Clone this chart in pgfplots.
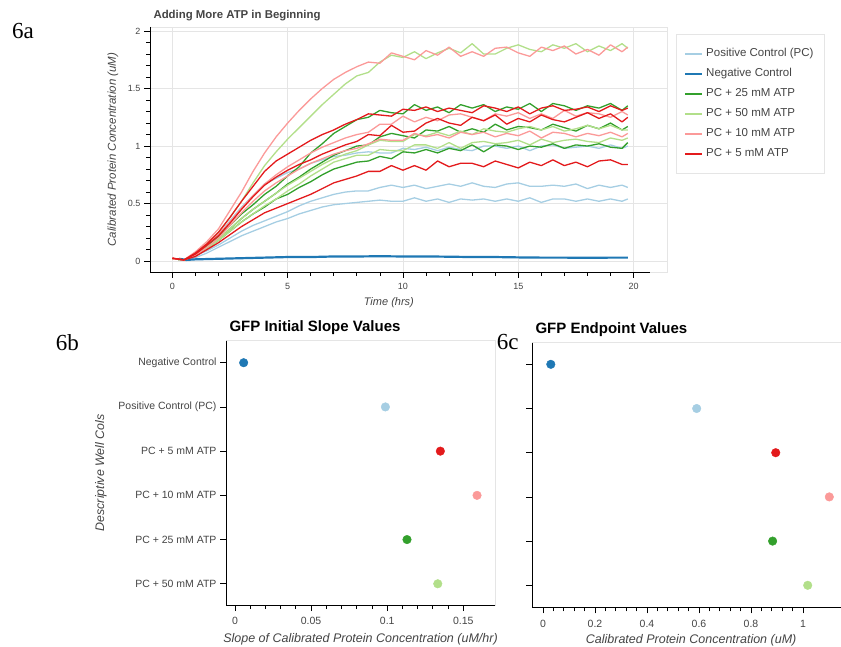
\documentclass[border=0pt]{standalone}
\usepackage{pgfplots}
\pgfplotsset{compat=1.18}
\usepackage{fontspec}
\setmainfont{Liberation Sans}
\newfontfamily\panelfont{Liberation Serif}

\definecolor{lblue}{HTML}{A6CEE3}
\definecolor{dblue}{HTML}{1F78B4}
\definecolor{dgreen}{HTML}{33A02C}
\definecolor{lgreen}{HTML}{B2DF8A}
\definecolor{pink}{HTML}{FB9A99}
\definecolor{dred}{HTML}{E31A1C}
\definecolor{txt}{HTML}{444444}
\definecolor{frame}{HTML}{E5E5E5}

% bokeh-like look: light frame, dark left/bottom axis, outside ticks
\pgfplotsset{
  bk/.style={
    scale only axis, tick align=outside,
    axis line style={frame, line width=0.8pt},
    xtick pos=left, ytick pos=left,
    major tick length=6pt, minor tick length=4pt,
    every tick/.style={black, line width=0.8pt},
    tick label style={text=txt},
    /pgf/number format/assume math mode=true,
    label style={text=txt},
    title style={anchor=base west, at={(axis description cs:0,1)}},
  },
  darkaxes/.style={
    after end axis/.code={\draw[black, line width=0.9pt]
      (axis description cs:0,1) -- (axis description cs:0,0) -- (axis description cs:#1,0);}
  },
}

\begin{document}
\begin{tikzpicture}[x=1pt,y=1pt]
\useasboundingbox (0,0) rectangle (841,646);

% ---------------- 6a ----------------
\begin{axis}[bk, darkaxes=0.967,
  at={(150pt,374pt)}, anchor=south west, width=517pt, height=245pt,
  xmin=-0.97, xmax=21.45, ymin=-0.095, ymax=2.035,
  xtick={0,5,10,15,20}, minor x tick num=4,
  ytick={0,0.5,1,1.5,2}, minor y tick num=4,
  grid=major, major grid style={frame, line width=0.8pt},
  tick label style={font=\fontsize{9}{10}\selectfont},
  xticklabel style={yshift=-2pt},
  title={Adding More ATP in Beginning},
  title style={font=\bfseries\fontsize{11.4}{13}\selectfont, text=txt, yshift=2.3pt},
  xlabel={Time (hrs)},
  xlabel style={at={(axis description cs:0.462,-0.127)}, anchor=center, font=\itshape\fontsize{11}{12}\selectfont},
  ylabel={Calibrated Protein Concentration (uM)},
  ylabel style={at={(axis description cs:-0.0716,0.5)}, anchor=center, font=\itshape\fontsize{11.5}{12}\selectfont},
  every axis plot/.append style={line width=1.3pt, no markers, line join=round},
  legend style={at={(1.0174,0.9714)}, anchor=north west, draw=frame, fill=white,
    font=\fontsize{11.5}{13}\selectfont, text=txt, inner xsep=8pt, inner ysep=13pt,
    row sep=7pt, nodes={inner ysep=1pt, inner xsep=3pt, text height=8.5pt, text depth=2.5pt}},
  legend cell align=left,
  legend image code/.code={\draw[#1, line width=2pt] (0pt,0pt) -- (17pt,0pt);},
]
% Positive Control (PC)
\addplot[lblue] coordinates {(0,0.02)(0.5,0.01)(1,0.06)(1.5,0.15)(2,0.23)(2.5,0.35)(3,0.47)(3.5,0.57)(4,0.67)(4.5,0.72)(5,0.77)(5.5,0.80)(6,0.85)(6.5,0.88)(7,0.91)(7.5,0.92)(8,0.94)(8.5,0.95)(9,0.94)(9.5,0.94)(10,0.98)(10.5,0.97)(11,0.99)(11.5,0.96)(12,0.99)(12.5,0.97)(13,0.96)(13.5,1.00)(14,1.00)(14.5,0.98)(15,1.00)(15.5,0.96)(16,1.00)(16.5,1.01)(17,0.98)(17.5,0.99)(18,1.00)(18.5,0.98)(19,1.01)(19.5,0.98)(19.75,1.00)};
\addlegendentry{Positive Control (PC)}
\addplot[lblue, forget plot] coordinates {(0,0.02)(0.5,0.01)(1,0.05)(1.5,0.09)(2,0.14)(2.5,0.20)(3,0.26)(3.5,0.31)(4,0.35)(4.5,0.39)(5,0.43)(5.5,0.48)(6,0.52)(6.5,0.55)(7,0.58)(7.5,0.60)(8,0.61)(8.5,0.61)(9,0.64)(9.5,0.66)(10,0.64)(10.5,0.66)(11,0.63)(11.5,0.65)(12,0.67)(12.5,0.65)(13,0.68)(13.5,0.65)(14,0.64)(14.5,0.67)(15,0.68)(15.5,0.65)(16,0.65)(16.5,0.66)(17,0.65)(17.5,0.67)(18,0.63)(18.5,0.66)(19,0.64)(19.5,0.66)(19.75,0.64)};
\addplot[lblue, forget plot] coordinates {(0,0.02)(0.5,0.01)(1,0.03)(1.5,0.07)(2,0.12)(2.5,0.17)(3,0.22)(3.5,0.26)(4,0.30)(4.5,0.34)(5,0.37)(5.5,0.41)(6,0.44)(6.5,0.47)(7,0.49)(7.5,0.50)(8,0.51)(8.5,0.52)(9,0.53)(9.5,0.52)(10,0.52)(10.5,0.55)(11,0.52)(11.5,0.54)(12,0.51)(12.5,0.54)(13,0.53)(13.5,0.54)(14,0.52)(14.5,0.54)(15,0.52)(15.5,0.55)(16,0.51)(16.5,0.54)(17,0.54)(17.5,0.52)(18,0.54)(18.5,0.52)(19,0.54)(19.5,0.52)(19.75,0.54)};
% Negative Control
\addplot[dblue, line width=2.2pt] coordinates {(0.3,0.02)(0.6,0.01)(1,0.015)(2,0.02)(3,0.025)(4,0.03)(5,0.035)(6,0.035)(7,0.04)(8,0.04)(9,0.042)(10,0.04)(11,0.04)(12,0.038)(13,0.035)(14,0.035)(15,0.032)(16,0.03)(17,0.03)(18,0.028)(19,0.03)(19.75,0.03)};
\addlegendentry{Negative Control}
% PC + 25 mM ATP
\addplot[dgreen] coordinates {(0,0.02)(0.5,0.01)(1,0.06)(1.5,0.13)(2,0.21)(2.5,0.31)(3,0.41)(3.5,0.49)(4,0.58)(4.5,0.65)(5,0.74)(5.5,0.82)(6,0.94)(6.5,1.02)(7,1.11)(7.5,1.17)(8,1.23)(8.5,1.25)(9,1.31)(9.5,1.29)(10,1.28)(10.5,1.36)(11,1.31)(11.5,1.34)(12,1.29)(12.5,1.36)(13,1.33)(13.5,1.36)(14,1.30)(14.5,1.34)(15,1.32)(15.5,1.37)(16,1.30)(16.5,1.37)(17,1.35)(17.5,1.31)(18,1.35)(18.5,1.33)(19,1.37)(19.5,1.31)(19.75,1.35)};
\addlegendentry{PC + 25 mM ATP}
\addplot[dgreen, forget plot] coordinates {(0,0.02)(0.5,0.01)(1,0.05)(1.5,0.11)(2,0.18)(2.5,0.26)(3,0.34)(3.5,0.41)(4,0.47)(4.5,0.54)(5,0.58)(5.5,0.64)(6,0.69)(6.5,0.75)(7,0.80)(7.5,0.83)(8,0.86)(8.5,0.87)(9,0.91)(9.5,0.89)(10,0.95)(10.5,0.94)(11,0.97)(11.5,0.94)(12,0.98)(12.5,0.96)(13,1.01)(13.5,0.95)(14,1.01)(14.5,1.00)(15,0.97)(15.5,1.00)(16,0.99)(16.5,1.02)(17,0.98)(17.5,1.01)(18,1.00)(18.5,1.02)(19,0.99)(19.5,0.98)(19.75,1.03)};
\addplot[dgreen, forget plot] coordinates {(0,0.02)(0.5,0.01)(1,0.05)(1.5,0.11)(2,0.19)(2.5,0.28)(3,0.37)(3.5,0.45)(4,0.52)(4.5,0.59)(5,0.67)(5.5,0.73)(6,0.80)(6.5,0.86)(7,0.92)(7.5,0.96)(8,1.00)(8.5,1.01)(9,1.08)(9.5,1.11)(10,1.09)(10.5,1.07)(11,1.14)(11.5,1.13)(12,1.17)(12.5,1.12)(13,1.15)(13.5,1.12)(14,1.19)(14.5,1.14)(15,1.17)(15.5,1.16)(16,1.14)(16.5,1.19)(17,1.16)(17.5,1.13)(18,1.18)(18.5,1.15)(19,1.20)(19.5,1.14)(19.75,1.17)};
% PC + 50 mM ATP
\addplot[lgreen] coordinates {(0,0.02)(0.5,0.01)(1,0.07)(1.5,0.15)(2,0.25)(2.5,0.38)(3,0.52)(3.5,0.68)(4,0.83)(4.5,0.95)(5,1.06)(5.5,1.16)(6,1.26)(6.5,1.36)(7,1.45)(7.5,1.54)(8,1.61)(8.5,1.64)(9,1.73)(9.5,1.79)(10,1.77)(10.5,1.82)(11,1.76)(11.5,1.81)(12,1.85)(12.5,1.81)(13,1.89)(13.5,1.80)(14,1.80)(14.5,1.85)(15,1.88)(15.5,1.84)(16,1.82)(16.5,1.88)(17,1.85)(17.5,1.89)(18,1.82)(18.5,1.87)(19,1.83)(19.5,1.89)(19.75,1.85)};
\addlegendentry{PC + 50 mM ATP}
\addplot[lgreen, forget plot] coordinates {(0,0.02)(0.5,0.01)(1,0.05)(1.5,0.11)(2,0.19)(2.5,0.28)(3,0.37)(3.5,0.45)(4,0.52)(4.5,0.59)(5,0.66)(5.5,0.72)(6,0.78)(6.5,0.84)(7,0.89)(7.5,0.93)(8,0.96)(8.5,1.01)(9,1.05)(9.5,1.04)(10,1.04)(10.5,1.10)(11,1.09)(11.5,1.12)(12,1.09)(12.5,1.13)(13,1.10)(13.5,1.15)(14,1.13)(14.5,1.12)(15,1.15)(15.5,1.17)(16,1.14)(16.5,1.17)(17,1.13)(17.5,1.15)(18,1.18)(18.5,1.15)(19,1.18)(19.5,1.14)(19.75,1.14)};
\addplot[lgreen, forget plot] coordinates {(0,0.02)(0.5,0.01)(1,0.05)(1.5,0.11)(2,0.18)(2.5,0.26)(3,0.34)(3.5,0.41)(4,0.48)(4.5,0.54)(5,0.61)(5.5,0.67)(6,0.74)(6.5,0.80)(7,0.86)(7.5,0.89)(8,0.92)(8.5,0.92)(9,0.97)(9.5,0.96)(10,0.96)(10.5,1.01)(11,1.01)(11.5,0.98)(12,1.03)(12.5,0.98)(13,1.03)(13.5,1.04)(14,1.02)(14.5,1.03)(15,1.05)(15.5,1.01)(16,1.06)(16.5,1.03)(17,1.05)(17.5,1.06)(18,1.04)(18.5,1.03)(19,1.07)(19.5,1.05)(19.75,1.07)};
% PC + 10 mM ATP
\addplot[pink] coordinates {(0,0.02)(0.5,0.01)(1,0.08)(1.5,0.17)(2,0.28)(2.5,0.44)(3,0.60)(3.5,0.78)(4,0.94)(4.5,1.08)(5,1.20)(5.5,1.31)(6,1.41)(6.5,1.50)(7,1.58)(7.5,1.64)(8,1.69)(8.5,1.73)(9,1.72)(9.5,1.81)(10,1.78)(10.5,1.75)(11,1.83)(11.5,1.79)(12,1.86)(12.5,1.78)(13,1.82)(13.5,1.78)(14,1.85)(14.5,1.86)(15,1.81)(15.5,1.78)(16,1.86)(16.5,1.83)(17,1.87)(17.5,1.80)(18,1.84)(18.5,1.79)(19,1.88)(19.5,1.82)(19.75,1.86)};
\addlegendentry{PC + 10 mM ATP}
\addplot[pink, forget plot] coordinates {(0,0.02)(0.5,0.01)(1,0.06)(1.5,0.14)(2,0.23)(2.5,0.34)(3,0.46)(3.5,0.57)(4,0.67)(4.5,0.75)(5,0.82)(5.5,0.88)(6,0.94)(6.5,0.99)(7,1.03)(7.5,1.07)(8,1.10)(8.5,1.12)(9,1.19)(9.5,1.19)(10,1.26)(10.5,1.21)(11,1.25)(11.5,1.22)(12,1.27)(12.5,1.28)(13,1.25)(13.5,1.22)(14,1.28)(14.5,1.26)(15,1.29)(15.5,1.24)(16,1.28)(16.5,1.24)(17,1.31)(17.5,1.26)(18,1.29)(18.5,1.28)(19,1.25)(19.5,1.30)(19.75,1.27)};
\addplot[pink, forget plot] coordinates {(0,0.02)(0.5,0.01)(1,0.05)(1.5,0.12)(2,0.20)(2.5,0.31)(3,0.42)(3.5,0.52)(4,0.61)(4.5,0.68)(5,0.74)(5.5,0.80)(6,0.85)(6.5,0.89)(7,0.93)(7.5,0.96)(8,0.98)(8.5,1.02)(9,1.06)(9.5,1.05)(10,1.05)(10.5,1.11)(11,1.08)(11.5,1.10)(12,1.07)(12.5,1.12)(13,1.10)(13.5,1.12)(14,1.08)(14.5,1.11)(15,1.09)(15.5,1.13)(16,1.07)(16.5,1.12)(17,1.11)(17.5,1.08)(18,1.11)(18.5,1.09)(19,1.12)(19.5,1.08)(19.75,1.11)};
% PC + 5 mM ATP
\addplot[dred] coordinates {(0,0.025)(0.5,0.01)(1,0.07)(1.5,0.15)(2,0.25)(2.5,0.38)(3,0.52)(3.5,0.65)(4,0.78)(4.5,0.87)(5,0.93)(5.5,0.99)(6,1.05)(6.5,1.10)(7,1.14)(7.5,1.19)(8,1.23)(8.5,1.28)(9,1.27)(9.5,1.26)(10,1.32)(10.5,1.31)(11,1.34)(11.5,1.30)(12,1.33)(12.5,1.31)(13,1.29)(13.5,1.35)(14,1.33)(14.5,1.30)(15,1.34)(15.5,1.28)(16,1.33)(16.5,1.35)(17,1.31)(17.5,1.32)(18,1.34)(18.5,1.30)(19,1.35)(19.5,1.31)(19.75,1.33)};
\addlegendentry{PC + 5 mM ATP}
\addplot[dred, forget plot] coordinates {(0,0.025)(0.5,0.01)(1,0.06)(1.5,0.14)(2,0.22)(2.5,0.33)(3,0.45)(3.5,0.56)(4,0.66)(4.5,0.73)(5,0.79)(5.5,0.84)(6,0.88)(6.5,0.93)(7,0.97)(7.5,1.01)(8,1.04)(8.5,1.10)(9,1.09)(9.5,1.18)(10,1.12)(10.5,1.13)(11,1.20)(11.5,1.24)(12,1.20)(12.5,1.18)(13,1.25)(13.5,1.22)(14,1.27)(14.5,1.19)(15,1.24)(15.5,1.21)(16,1.27)(16.5,1.23)(17,1.21)(17.5,1.25)(18,1.29)(18.5,1.24)(19,1.28)(19.5,1.21)(19.75,1.25)};
\addplot[dred, forget plot] coordinates {(0,0.025)(0.5,0.01)(1,0.04)(1.5,0.10)(2,0.16)(2.5,0.23)(3,0.30)(3.5,0.36)(4,0.42)(4.5,0.46)(5,0.50)(5.5,0.54)(6,0.58)(6.5,0.63)(7,0.68)(7.5,0.71)(8,0.74)(8.5,0.78)(9,0.78)(9.5,0.83)(10,0.79)(10.5,0.83)(11,0.79)(11.5,0.87)(12,0.82)(12.5,0.85)(13,0.85)(13.5,0.82)(14,0.87)(14.5,0.84)(15,0.81)(15.5,0.86)(16,0.83)(16.5,0.88)(17,0.83)(17.5,0.86)(18,0.82)(18.5,0.87)(19,0.88)(19.5,0.84)(19.75,0.84)};
\end{axis}

% ---------------- 6b ----------------
\begin{axis}[bk, darkaxes=1,
  at={(226pt,41pt)}, anchor=south west, width=269pt, height=264.3pt,
  xmin=-0.0059, xmax=0.1708, ymin=-0.498, ymax=5.48, y dir=reverse,
  xtick={0,0.05,0.1,0.15}, xticklabels={0,0.05,0.1,0.15}, scaled x ticks=false,
  minor x tick num=4,
  ytick={0,1,2,3,4,5},
  yticklabels={Negative Control,Positive Control (PC),PC + 5 mM ATP,PC + 10 mM ATP,PC + 25 mM ATP,PC + 50 mM ATP},
  tick label style={font=\fontsize{10.5}{12}\selectfont},
  xticklabel style={yshift=-3pt},
  title={GFP Initial Slope Values},
  title style={font=\bfseries\fontsize{15}{17}\selectfont, text=black, yshift=3.7pt},
  xlabel={Slope of Calibrated Protein Concentration (uM/hr)},
  xlabel style={at={(axis description cs:0.5,-0.129)}, anchor=center, font=\itshape\fontsize{12.5}{14}\selectfont},
  ylabel={Descriptive Well Cols},
  ylabel style={at={(axis description cs:-0.465,0.5)}, anchor=center, font=\itshape\fontsize{12.4}{14}\selectfont},
  every axis plot/.append style={only marks, mark=*, mark size=4.3pt},
]
\addplot[dblue] coordinates {(0.0057,0)};
\addplot[lblue] coordinates {(0.0988,1)};
\addplot[dred] coordinates {(0.1349,2)};
\addplot[pink] coordinates {(0.1590,3)};
\addplot[dgreen] coordinates {(0.1130,4)};
\addplot[lgreen] coordinates {(0.1332,5)};
\end{axis}

% ---------------- 6c ----------------
\begin{axis}[bk, darkaxes=1,
  at={(532pt,38.7pt)}, anchor=south west, width=309pt, height=264.6pt,
  xmin=-0.0423, xmax=1.146, ymin=-0.489, ymax=5.498, y dir=reverse,
  xtick={0,0.2,0.4,0.6,0.8,1}, xticklabels={0,0.2,0.4,0.6,0.8,1}, scaled x ticks=false,
  minor x tick num=4,
  ytick={0,1,2,3,4,5}, yticklabels={},
  tick label style={font=\fontsize{10.5}{12}\selectfont},
  xticklabel style={yshift=-3pt},
  title={GFP Endpoint Values},
  title style={font=\bfseries\fontsize{15}{17}\selectfont, text=black, yshift=3.7pt},
  xlabel={Calibrated Protein Concentration (uM)},
  xlabel style={at={(axis description cs:0.515,-0.125)}, anchor=center, font=\itshape\fontsize{12.5}{14}\selectfont},
  every axis plot/.append style={only marks, mark=*, mark size=4.3pt},
]
\addplot[dblue] coordinates {(0.030,0)};
\addplot[lblue] coordinates {(0.591,1)};
\addplot[dred] coordinates {(0.895,2)};
\addplot[pink] coordinates {(1.101,3)};
\addplot[dgreen] coordinates {(0.883,4)};
\addplot[lgreen] coordinates {(1.018,5)};
\end{axis}

% panel tags
\node[anchor=base west, inner sep=0pt, font=\panelfont\fontsize{23}{25}\selectfont] at (12,607) {6a};
\node[anchor=base west, inner sep=0pt, font=\panelfont\fontsize{23}{25}\selectfont] at (55.7,295) {6b};
\node[anchor=base west, inner sep=0pt, font=\panelfont\fontsize{23}{25}\selectfont] at (496.7,296) {6c};
\end{tikzpicture}
\end{document}
